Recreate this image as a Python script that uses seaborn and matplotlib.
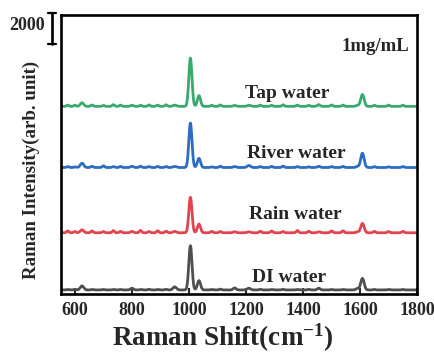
import numpy as np
import pandas as pd
import seaborn as sns
import matplotlib.pyplot as plt
import matplotlib.transforms as mtransforms

# peak data (intensity units, scale bar = 2000)
samples = ["DI water", "Rain water", "River water", "Tap water"]
colors = ["#4f4f4f", "#e2434f", "#2c6dc2", "#3aa96d"]
offsets = [260, 3935, 8130, 12060]

peak_pos = [625, 800, 950, 1005, 1035, 1160, 1210, 1455, 1590, 1608]
peak_width = [6, 5, 6, 5.5, 5.5, 5, 6, 5, 5, 6]
peak_height = {
    "DI water":    [260, 110, 200, 2850, 600, 130, 110, 110, 90, 740],
    "Rain water":  [190, 90, 90, 2280, 560, 70, 60, 60, 60, 600],
    "River water": [280, 80, 70, 2860, 590, 60, 130, 80, 60, 920],
    "Tap water":   [230, 70, 80, 3100, 690, 60, 70, 110, 60, 760],
}

# small wiggles along the baselines
wiggle_pos = [575, 600, 660, 700, 735, 760, 830, 860, 890, 920, 1080, 1110,
              1250, 1290, 1330, 1380, 1420, 1500, 1540, 1650, 1700, 1750]
wiggle_height = {
    "DI water":    [30, 40, 30, 30, 30, 30, 30, 40, 30, 40, 30, 50,
                    40, 30, 40, 30, 40, 30, 30, 30, 30, 30],
    "Rain water":  [120, 80, 120, 80, 140, 90, 150, 80, 130, 100, 90, 80,
                    100, 120, 80, 140, 100, 120, 130, 90, 80, 90],
    "River water": [60, 40, 80, 110, 60, 70, 80, 60, 70, 60, 40, 80,
                    60, 70, 90, 60, 40, 60, 70, 60, 40, 60],
    "Tap water":   [80, 70, 90, 60, 110, 80, 70, 90, 80, 100, 70, 90,
                    80, 70, 100, 80, 70, 90, 80, 70, 80, 70],
}

label_x = [1351, 1372, 1375, 1344]
label_y = [1030, 5100, 9030, 12900]

shift = np.arange(550, 1801, 1.0)

frames = []
for name, off in zip(samples, offsets):
    y = np.full_like(shift, off)
    for p, w, h in zip(peak_pos, peak_width, peak_height[name]):
        y += h * np.exp(-0.5 * ((shift - p) / w) ** 2)
    for p, h in zip(wiggle_pos, wiggle_height[name]):
        y += h * np.exp(-0.5 * ((shift - p) / 4) ** 2)
    frames.append(pd.DataFrame({"shift": shift, "intensity": y, "sample": name}))
df = pd.concat(frames)

sns.set_style("ticks")
plt.rcParams['font.family'] = ['Liberation Serif', 'DejaVu Serif']
plt.rcParams['font.weight'] = 'bold'
plt.rcParams['mathtext.fontset'] = 'custom'
plt.rcParams['mathtext.rm'] = 'Liberation Serif:bold'
plt.rcParams['mathtext.bf'] = 'Liberation Serif:bold'
plt.rcParams['mathtext.it'] = 'Liberation Serif:bold'

fig = plt.figure(figsize=(4.35, 3.54), dpi=100)
ax = fig.add_axes([0.140, 0.1695, 0.819, 0.788])

sns.lineplot(data=df, x="shift", y="intensity", hue="sample",
             hue_order=samples, palette=colors, linewidth=2.0,
             legend=False, ax=ax)

ax.set_xlim(551, 1800)
ax.set_ylim(0, 17930)
ax.set_xticks([600, 800, 1000, 1200, 1400, 1600, 1800])
ax.set_yticks([])
ax.tick_params(axis='x', direction='in', length=4, width=1.5,
               labelsize=13, pad=6)
for lab in ax.get_xticklabels():
    lab.set_fontweight('bold')
for sp in ax.spines.values():
    sp.set_linewidth(1.9)
    sp.set_color('black')

ax.set_xlabel("Raman Shift(cm$^{-1}$)", fontsize=19.5, fontweight='bold')
ax.xaxis.set_label_coords(0.455, -0.098)
ax.set_ylabel("Raman Intensity(arb. unit)", fontsize=13.6, fontweight='bold')
ax.yaxis.set_label_coords(-0.058, 0.446)

for name, tx, ty in zip(samples, label_x, label_y):
    ax.text(tx, ty, name, ha='center', va='center', fontsize=14,
            fontweight='bold')
ax.text(1653, 15930, "1mg/mL", ha='center', va='center', fontsize=13.5,
        fontweight='bold')

# scale bar (2000 counts)
trans = mtransforms.blended_transform_factory(ax.transAxes, ax.transData)
bar_top = 18060
ax.plot([-0.025, -0.025], [bar_top - 2000, bar_top], color='black',
        linewidth=1.9, transform=trans, clip_on=False)
for yy in (bar_top - 2000, bar_top):
    ax.plot([-0.036, -0.014], [yy, yy], color='black', linewidth=1.6,
            transform=trans, clip_on=False)
ax.text(-0.045, bar_top - 800, "2000", ha='right', va='center',
        fontsize=13, fontweight='bold', transform=trans)

fig.savefig("out.png", dpi=100)
